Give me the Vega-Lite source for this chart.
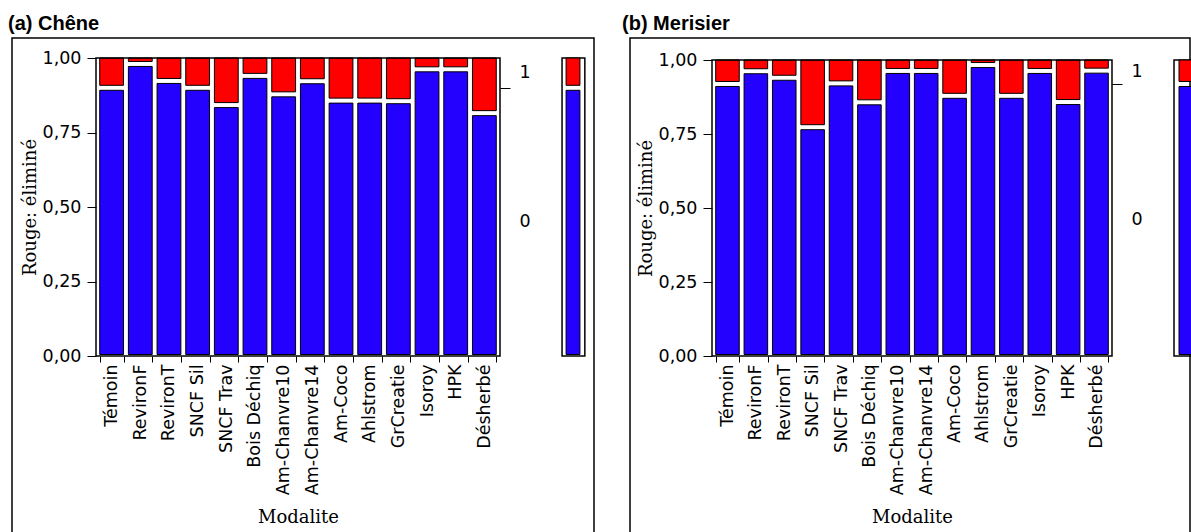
{
  "$schema": "https://vega.github.io/schema/vega-lite/v6.json",
  "background": "white",
  "padding": {"left": 2, "top": 13, "right": 0, "bottom": 0},
  "config": {
    "view": {"stroke": "black", "strokeWidth": 1.5},
    "font": "DejaVu Sans",
    "title": {"font": "Liberation Sans", "fontSize": 20, "fontWeight": "bold", "anchor": "start", "color": "black", "frame": "group", "offset": 4},
    "axis": {"labelFont": "DejaVu Sans", "labelFontSize": 17.5, "labelColor": "black", "tickColor": "black", "domainColor": "black", "titleFont": "DejaVu Serif", "titleFontSize": 18, "titleFontWeight": "normal", "titleColor": "black", "grid": false}
  },
  "datasets": {
    "chene": [
      {"Modalite": "Témoin", "p0": 0.90},
      {"Modalite": "RevironF", "p0": 0.98},
      {"Modalite": "RevironT", "p0": 0.923},
      {"Modalite": "SNCF Sil", "p0": 0.90},
      {"Modalite": "SNCF Trav", "p0": 0.842},
      {"Modalite": "Bois Déchiq", "p0": 0.94},
      {"Modalite": "Am-Chanvre10", "p0": 0.878},
      {"Modalite": "Am-Chanvre14", "p0": 0.922},
      {"Modalite": "Am-Coco", "p0": 0.857},
      {"Modalite": "Ahlstrom", "p0": 0.857},
      {"Modalite": "GrCreatie", "p0": 0.855},
      {"Modalite": "Isoroy", "p0": 0.962},
      {"Modalite": "HPK", "p0": 0.962},
      {"Modalite": "Désherbé", "p0": 0.815}
    ],
    "merisier": [
      {"Modalite": "Témoin", "p0": 0.919},
      {"Modalite": "RevironF", "p0": 0.962},
      {"Modalite": "RevironT", "p0": 0.94},
      {"Modalite": "SNCF Sil", "p0": 0.773},
      {"Modalite": "SNCF Trav", "p0": 0.921},
      {"Modalite": "Bois Déchiq", "p0": 0.857},
      {"Modalite": "Am-Chanvre10", "p0": 0.963},
      {"Modalite": "Am-Chanvre14", "p0": 0.963},
      {"Modalite": "Am-Coco", "p0": 0.879},
      {"Modalite": "Ahlstrom", "p0": 0.983},
      {"Modalite": "GrCreatie", "p0": 0.879},
      {"Modalite": "Isoroy", "p0": 0.963},
      {"Modalite": "HPK", "p0": 0.858},
      {"Modalite": "Désherbé", "p0": 0.964}
    ],
    "chene_total": [{"p0": 0.90}],
    "merisier_total": [{"p0": 0.919}]
  },
  "bounds": "flush",
  "spacing": 36,
  "hconcat": [
    {
      "title": {"text": "(a) Chêne", "dx": -4},
      "width": 582,
      "height": 495,
      "resolve": {"scale": {"x": "independent", "y": "independent"}},
      "layer": [
        {
          "data": {"name": "chene"},
          "layer": [
            {
              "mark": {"type": "rect", "fill": "#2400ff", "stroke": "black", "strokeWidth": 1, "yOffset": 2.5, "y2Offset": -1.5},
              "encoding": {
                "x": {"field": "Modalite", "type": "nominal", "sort": null,
                  "scale": {"type": "band", "range": [84, 488], "paddingInner": 0.17, "paddingOuter": 0.13},
                  "axis": {"title": "Modalite", "orient": "bottom", "offset": -177, "labelAngle": -90, "tickBand": "extent", "tickSize": 6, "labelPadding": 2, "titlePadding": 14, "domain": false}},
                "y": {"field": "p0", "type": "quantitative",
                  "scale": {"domain": [0, 1], "range": [318, 20], "nice": false, "zero": false},
                  "axis": {"title": "Rouge: éliminé", "orient": "left", "offset": -84, "values": [0, 0.25, 0.5, 0.75, 1], "labelExpr": "replace(format(datum.value, '.2f'), '.', ',')", "tickSize": 9, "labelPadding": 6, "titlePadding": 3, "domain": false}},
                "y2": {"datum": 0}
              }
            },
            {
              "mark": {"type": "rect", "fill": "#ff0000", "stroke": "black", "strokeWidth": 1, "yOffset": -2.5},
              "encoding": {
                "x": {"field": "Modalite", "type": "nominal", "sort": null},
                "y": {"field": "p0", "type": "quantitative"},
                "y2": {"datum": 1}
              }
            }
          ]
        },
        {
          "data": {"name": "chene_total"},
          "layer": [
            {
              "mark": {"type": "rect", "fill": null, "stroke": "black", "strokeWidth": 1.5},
              "encoding": {
                "x": {"datum": 0, "type": "quantitative", "scale": {"domain": [0, 14], "range": [84, 488], "nice": false, "zero": false}, "axis": null},
                "x2": {"datum": 14},
                "y": {"datum": 0, "type": "quantitative",
                  "scale": {"domain": [0, 1], "range": [318, 20], "nice": false, "zero": false},
                  "axis": {"title": null, "orient": "right", "offset": -94, "values": [0.45, 0.9, 0.95], "labelExpr": "datum.value == 0.9 ? '' : (datum.value > 0.9 ? '1' : '0')", "tickSize": 10, "labelPadding": 9, "tickColor": {"condition": {"test": "datum.value == 0.9", "value": "black"}, "value": "transparent"}, "domain": false}},
                "y2": {"datum": 1}
              }
            },
            {
              "mark": {"type": "rect", "fill": null, "stroke": "black", "strokeWidth": 1.5},
              "encoding": {
                "x": {"datum": 16.15, "type": "quantitative"},
                "x2": {"datum": 16.94},
                "y": {"datum": 0, "type": "quantitative"},
                "y2": {"datum": 1}
              }
            },
            {
              "mark": {"type": "rect", "fill": "#2400ff", "stroke": "black", "strokeWidth": 1, "yOffset": 2.5, "y2Offset": -1.5},
              "encoding": {
                "x": {"datum": 16.29, "type": "quantitative"},
                "x2": {"datum": 16.77},
                "y": {"field": "p0", "type": "quantitative"},
                "y2": {"datum": 0}
              }
            },
            {
              "mark": {"type": "rect", "fill": "#ff0000", "stroke": "black", "strokeWidth": 1, "yOffset": -2.5},
              "encoding": {
                "x": {"datum": 16.29, "type": "quantitative"},
                "x2": {"datum": 16.77},
                "y": {"field": "p0", "type": "quantitative"},
                "y2": {"datum": 1}
              }
            }
          ]
        }
      ]
    },
    {
      "title": {"text": "(b) Merisier", "dx": -8},
      "width": 560,
      "height": 495,
      "resolve": {"scale": {"x": "independent", "y": "independent"}},
      "layer": [
        {
          "data": {"name": "merisier"},
          "layer": [
            {
              "mark": {"type": "rect", "fill": "#2400ff", "stroke": "black", "strokeWidth": 1, "yOffset": 2.5, "y2Offset": -1.5},
              "encoding": {
                "x": {"field": "Modalite", "type": "nominal", "sort": null,
                  "scale": {"type": "band", "range": [82, 482], "paddingInner": 0.17, "paddingOuter": 0.13},
                  "axis": {"title": "Modalite", "orient": "bottom", "offset": -177, "labelAngle": -90, "tickBand": "extent", "tickSize": 6, "labelPadding": 2, "titlePadding": 14, "domain": false}},
                "y": {"field": "p0", "type": "quantitative",
                  "scale": {"domain": [0, 1], "range": [318, 22], "nice": false, "zero": false},
                  "axis": {"title": "Rouge: éliminé", "orient": "left", "offset": -82, "values": [0, 0.25, 0.5, 0.75, 1], "labelExpr": "replace(format(datum.value, '.2f'), '.', ',')", "tickSize": 9, "labelPadding": 6, "titlePadding": 3, "domain": false}},
                "y2": {"datum": 0}
              }
            },
            {
              "mark": {"type": "rect", "fill": "#ff0000", "stroke": "black", "strokeWidth": 1, "yOffset": -2.5},
              "encoding": {
                "x": {"field": "Modalite", "type": "nominal", "sort": null},
                "y": {"field": "p0", "type": "quantitative"},
                "y2": {"datum": 1}
              }
            }
          ]
        },
        {
          "data": {"name": "merisier_total"},
          "layer": [
            {
              "mark": {"type": "rect", "fill": null, "stroke": "black", "strokeWidth": 1.5},
              "encoding": {
                "x": {"datum": 0, "type": "quantitative", "scale": {"domain": [0, 14], "range": [82, 482], "nice": false, "zero": false}, "axis": null},
                "x2": {"datum": 14},
                "y": {"datum": 0, "type": "quantitative",
                  "scale": {"domain": [0, 1], "range": [318, 22], "nice": false, "zero": false},
                  "axis": {"title": null, "orient": "right", "offset": -78, "values": [0.46, 0.919, 0.96], "labelExpr": "datum.value == 0.919 ? '' : (datum.value > 0.919 ? '1' : '0')", "tickSize": 10, "labelPadding": 9, "tickColor": {"condition": {"test": "datum.value == 0.919", "value": "black"}, "value": "transparent"}, "domain": false}},
                "y2": {"datum": 1}
              }
            },
            {
              "mark": {"type": "rect", "fill": null, "stroke": "black", "strokeWidth": 1.5},
              "encoding": {
                "x": {"datum": 16.17, "type": "quantitative"},
                "x2": {"datum": 16.975},
                "y": {"datum": 0, "type": "quantitative"},
                "y2": {"datum": 1}
              }
            },
            {
              "mark": {"type": "rect", "fill": "#2400ff", "stroke": "black", "strokeWidth": 1, "yOffset": 2.5, "y2Offset": -1.5},
              "encoding": {
                "x": {"datum": 16.345, "type": "quantitative"},
                "x2": {"datum": 16.835},
                "y": {"field": "p0", "type": "quantitative"},
                "y2": {"datum": 0}
              }
            },
            {
              "mark": {"type": "rect", "fill": "#ff0000", "stroke": "black", "strokeWidth": 1, "yOffset": -2.5},
              "encoding": {
                "x": {"datum": 16.345, "type": "quantitative"},
                "x2": {"datum": 16.835},
                "y": {"field": "p0", "type": "quantitative"},
                "y2": {"datum": 1}
              }
            }
          ]
        }
      ]
    }
  ]
}
